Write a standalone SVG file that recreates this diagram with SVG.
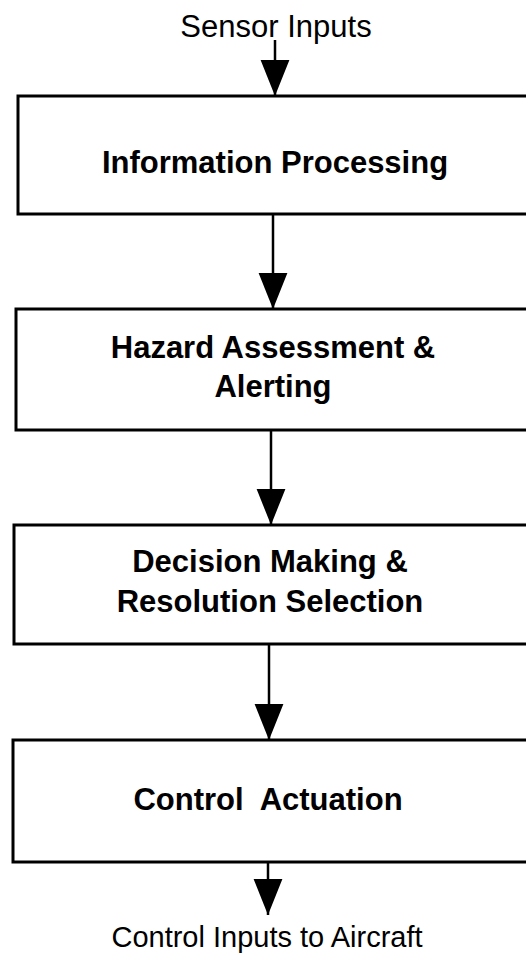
<svg xmlns="http://www.w3.org/2000/svg" width="526" height="956" viewBox="0 0 526 956">
<style>
.box{fill:#fff;stroke:#000;stroke-width:3}
.lbl{font-family:"Liberation Sans",Arial,sans-serif;font-size:30px;fill:#000;text-anchor:middle}
.bt{font-family:"Liberation Sans",Arial,sans-serif;font-size:31px;font-weight:bold;fill:#000;text-anchor:middle;white-space:pre}
.con{stroke:#000;stroke-width:2.5;fill:none;marker-end:url(#ah)}
</style>
<defs>
<marker id="ah" markerUnits="userSpaceOnUse" markerWidth="36" markerHeight="30" viewBox="0 0 35 28" refX="35" refY="14" orient="auto">
<path d="M0,0 L35,14 L0,28 Z" fill="#000"/>
</marker>
</defs>
<rect width="526" height="956" fill="#fff"/>
<g id="connectors">
<line class="con" x1="275" y1="40" x2="275" y2="96"/>
<line class="con" x1="273" y1="214" x2="273" y2="309"/>
<line class="con" x1="271" y1="430" x2="271" y2="525"/>
<line class="con" x1="269" y1="644" x2="269" y2="740"/>
<line class="con" x1="268" y1="862" x2="268" y2="915"/>
</g>
<g id="sensor-inputs">
<text class="lbl" x="276" y="37" style="font-size:31px">Sensor Inputs</text>
</g>
<g id="information-processing">
<rect class="box" x="18" y="96" width="530" height="118"/>
<text class="bt" x="275" y="173">Information Processing</text>
</g>
<g id="hazard-assessment">
<rect class="box" x="16" y="309" width="532" height="121"/>
<text class="bt" x="273" y="358">Hazard Assessment &amp;</text>
<text class="bt" x="273" y="397">Alerting</text>
</g>
<g id="decision-making">
<rect class="box" x="14" y="525" width="534" height="119"/>
<text class="bt" x="270" y="572">Decision Making &amp;</text>
<text class="bt" x="270" y="612">Resolution Selection</text>
</g>
<g id="control-actuation">
<rect class="box" x="13" y="740" width="535" height="122"/>
<text class="bt" x="268" y="810" xml:space="preserve">Control  Actuation</text>
</g>
<g id="control-inputs">
<text class="lbl" x="267" y="947" style="font-size:29px">Control Inputs to Aircraft</text>
</g>
</svg>
